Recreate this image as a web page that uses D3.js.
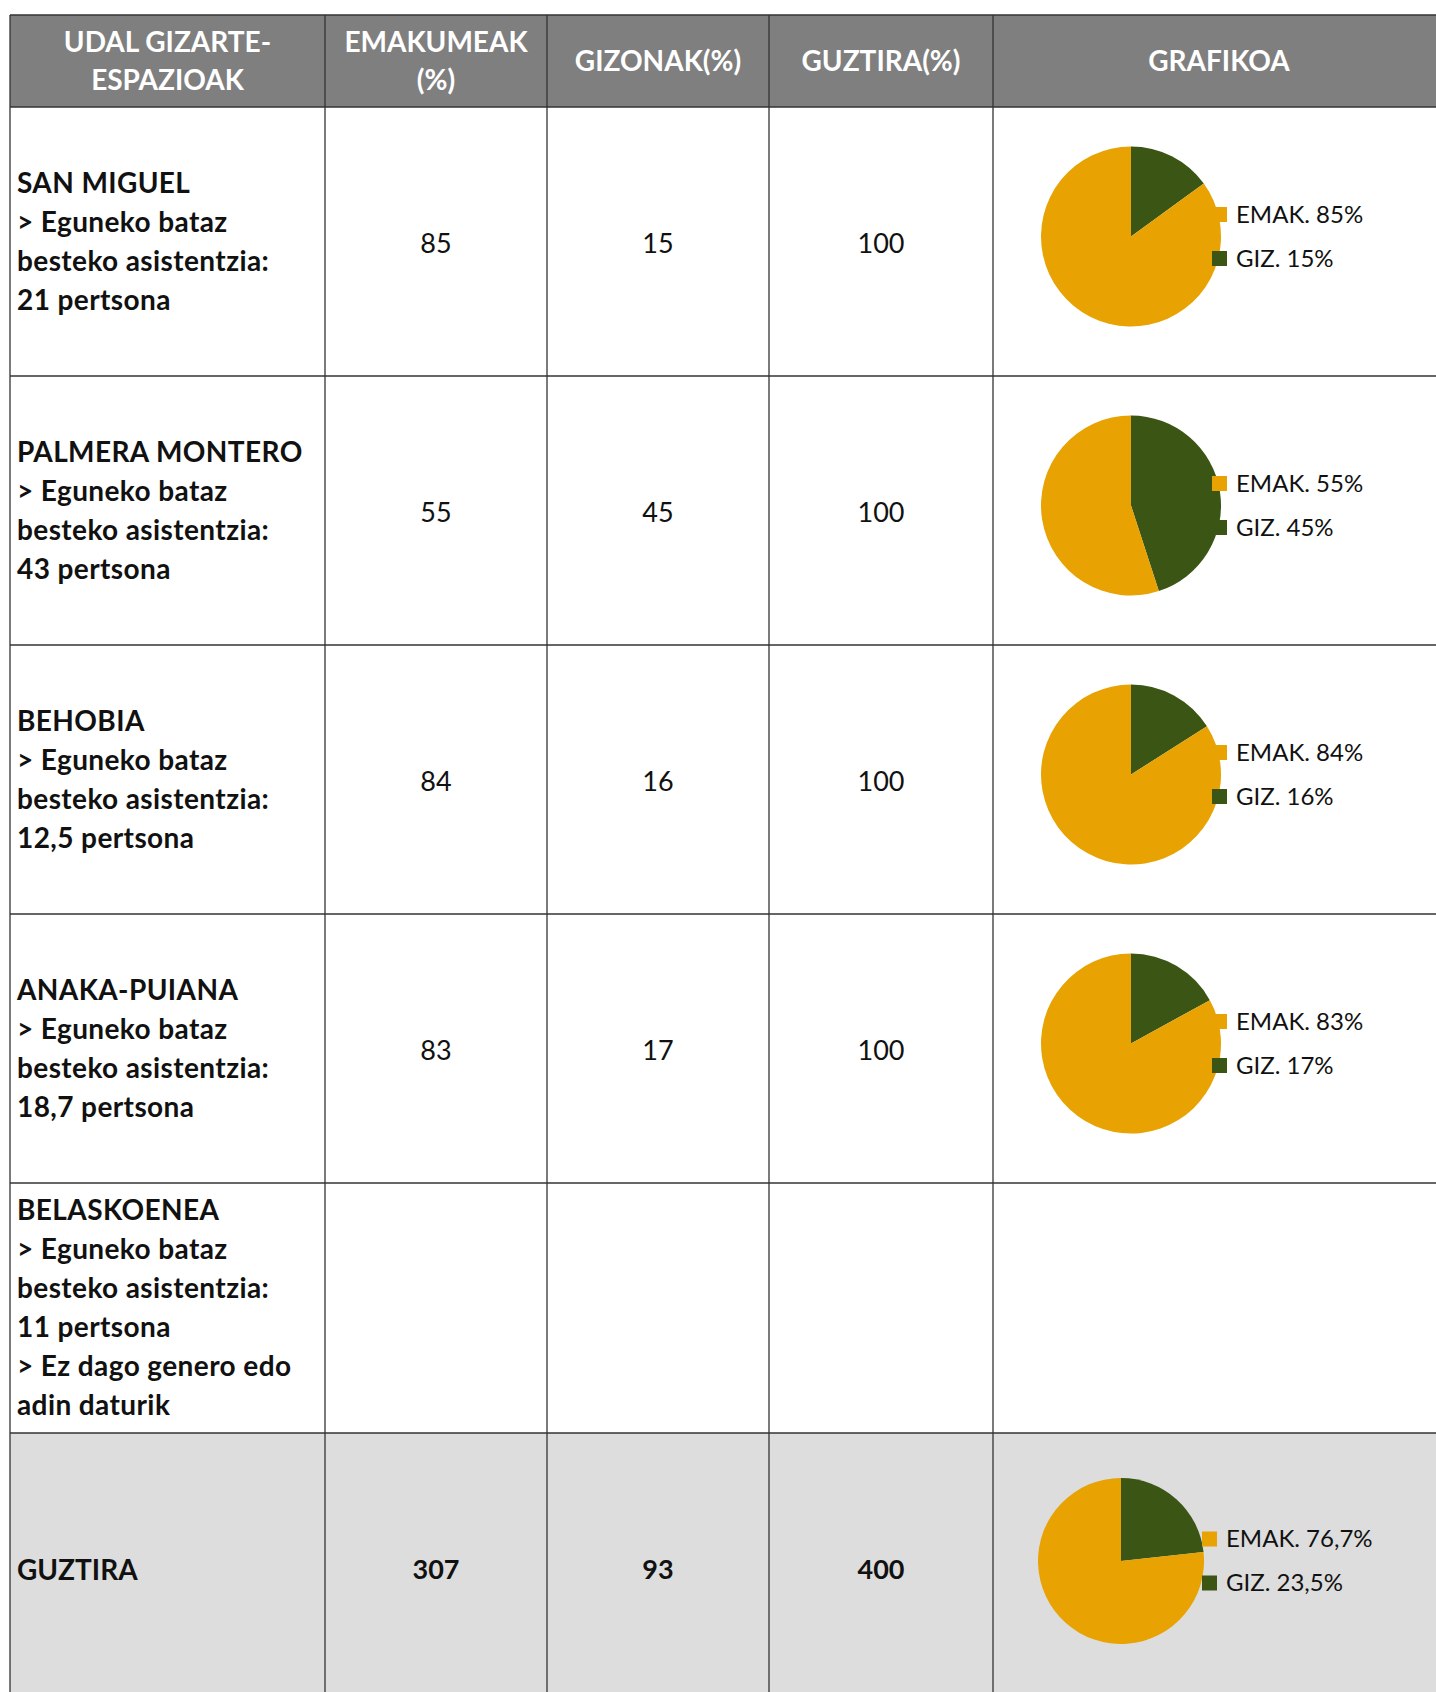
<!DOCTYPE html>
<html>
<head>
<meta charset="utf-8">
<script src="https://cdn.jsdelivr.net/npm/d3@7"></script>
<style>
  body { margin: 0; background: #fff; }
  svg { display: block; font-family: Lato, "Open Sans", sans-serif; }
</style>
</head>
<body>
<svg id="chart"></svg>
<script>
// column headers
const headers = [
  ['UDAL GIZARTE-', 'ESPAZIOAK'],
  ['EMAKUMEAK', '(%)'],
  ['GIZONAK(%)'],
  ['GUZTIRA(%)'],
  ['GRAFIKOA']
];

// one entry per space
const spaceLines = [
  ['SAN MIGUEL', '> Eguneko bataz', 'besteko asistentzia:', '21 pertsona'],
  ['PALMERA MONTERO', '> Eguneko bataz', 'besteko asistentzia:', '43 pertsona'],
  ['BEHOBIA', '> Eguneko bataz', 'besteko asistentzia:', '12,5 pertsona'],
  ['ANAKA-PUIANA', '> Eguneko bataz', 'besteko asistentzia:', '18,7 pertsona'],
  ['BELASKOENEA', '> Eguneko bataz', 'besteko asistentzia:', '11 pertsona', '> Ez dago genero edo', 'adin daturik']
];
const emakumeak = [85, 55, 84, 83, null];
const gizonak   = [15, 45, 16, 17, null];
const guztira   = [100, 100, 100, 100, null];
const emakLabels = ['EMAK. 85%', 'EMAK. 55%', 'EMAK. 84%', 'EMAK. 83%', null];
const gizLabels  = ['GIZ. 15%', 'GIZ. 45%', 'GIZ. 16%', 'GIZ. 17%', null];

// totals row
const totalLabel = 'GUZTIRA';
const totalEmak = 307;
const totalGiz = 93;
const totalAll = 400;
const totalEmakLabel = 'EMAK. 76,7%';
const totalGizLabel = 'GIZ. 23,5%';

// layout
const width = 1436, height = 1692;
const colEdges = [10, 325, 547, 769, 993, 1445];
const tableTop = 15, headerH = 92;
const rowHeights = [269, 269, 269, 269, 250, 270];
const colors = { emak: '#E8A202', giz: '#3B5614', header: '#7F7F7F', total: '#DDDDDD', line: '#333' };

const svg = d3.select('#chart').attr('width', width).attr('height', height);

// row tops
const rowTops = [tableTop + headerH];
rowHeights.forEach((h, i) => rowTops.push(rowTops[i] + h));

// backgrounds
svg.append('rect')
  .attr('x', colEdges[0]).attr('y', tableTop)
  .attr('width', colEdges[5] - colEdges[0]).attr('height', headerH)
  .attr('fill', colors.header);
svg.append('rect')
  .attr('x', colEdges[0]).attr('y', rowTops[5])
  .attr('width', colEdges[5] - colEdges[0]).attr('height', rowHeights[5])
  .attr('fill', colors.total);

// header text
headers.forEach((lines, c) => {
  const cx = (colEdges[c] + colEdges[c + 1]) / 2;
  const cy = tableTop + headerH / 2;
  const t = svg.append('text')
    .attr('text-anchor', 'middle')
    .attr('fill', '#fff')
    .attr('font-weight', 700)
    .attr('font-size', 28);
  lines.forEach((l, i) => {
    t.append('tspan')
      .attr('x', cx)
      .attr('y', cy + (i - (lines.length - 1) / 2) * 38)
      .attr('dy', '0.35em')
      .text(l);
  });
});

const pie = d3.pie().sort(null).value(d => d.value);

function drawPie(cx, cy, r, giz, emak, emakLabel, gizLabel) {
  const g = svg.append('g').attr('transform', `translate(${cx},${cy})`);
  const arc = d3.arc().innerRadius(0).outerRadius(r);
  g.selectAll('path')
    .data(pie([{ key: 'giz', value: giz }, { key: 'emak', value: emak }]))
    .join('path')
      .attr('d', arc)
      .attr('fill', d => colors[d.data.key]);

  const legend = [{ key: 'emak', label: emakLabel }, { key: 'giz', label: gizLabel }];
  const lg = g.selectAll('.leg')
    .data(legend)
    .join('g')
      .attr('class', 'leg')
      .attr('transform', (d, i) => `translate(81,${(i - 0.5) * 44})`);
  lg.append('rect')
    .attr('x', 0).attr('y', -7.5)
    .attr('width', 15).attr('height', 15)
    .attr('fill', d => colors[d.key]);
  lg.append('text')
    .attr('x', 24).attr('dy', '0.35em')
    .attr('font-size', 24)
    .attr('fill', '#111')
    .text(d => d.label);
}

function cellText(c, rowIdx, value, bold) {
  const cx = (colEdges[c] + colEdges[c + 1]) / 2;
  const cy = rowTops[rowIdx] + rowHeights[rowIdx] / 2 + 2;
  svg.append('text')
    .attr('x', cx).attr('y', cy).attr('dy', '0.35em')
    .attr('text-anchor', 'middle')
    .attr('font-size', 27)
    .attr('font-weight', bold ? 700 : 400)
    .attr('fill', '#111')
    .text(value);
}

// body rows
spaceLines.forEach((lines, r) => {
  const cy = rowTops[r] + rowHeights[r] / 2;
  const t = svg.append('text')
    .attr('font-size', 28)
    .attr('letter-spacing', 0.4)
    .attr('font-weight', 700)
    .attr('fill', '#111');
  lines.forEach((l, i) => {
    t.append('tspan')
      .attr('x', colEdges[0] + 7)
      .attr('y', cy + (i - (lines.length - 1) / 2) * 39)
      .attr('dy', '0.35em')
      .text(l);
  });
  if (emakumeak[r] != null) {
    cellText(1, r, emakumeak[r], false);
    cellText(2, r, gizonak[r], false);
    cellText(3, r, guztira[r], false);
    drawPie(1131, cy - 5, 90, gizonak[r], emakumeak[r], emakLabels[r], gizLabels[r]);
  }
});

// total row
{
  const r = 5;
  const cy = rowTops[r] + rowHeights[r] / 2;
  svg.append('text')
    .attr('x', colEdges[0] + 7).attr('y', cy + 2).attr('dy', '0.35em')
    .attr('font-size', 28).attr('font-weight', 700).attr('fill', '#111')
    .text(totalLabel);
  cellText(1, r, totalEmak, true);
  cellText(2, r, totalGiz, true);
  cellText(3, r, totalAll, true);
  drawPie(1121, cy - 7, 83, totalGiz, totalEmak, totalEmakLabel, totalGizLabel);
}

// grid lines
const grid = svg.append('g').attr('stroke', colors.line).attr('stroke-width', 1.3);
grid.selectAll('.v')
  .data(colEdges)
  .join('line')
    .attr('x1', d => d).attr('x2', d => d)
    .attr('y1', tableTop).attr('y2', height + 20);
grid.selectAll('.h')
  .data([tableTop].concat(rowTops.slice(0, 6)))
  .join('line')
    .attr('x1', colEdges[0]).attr('x2', colEdges[5])
    .attr('y1', d => d).attr('y2', d => d);
</script>
</body>
</html>
